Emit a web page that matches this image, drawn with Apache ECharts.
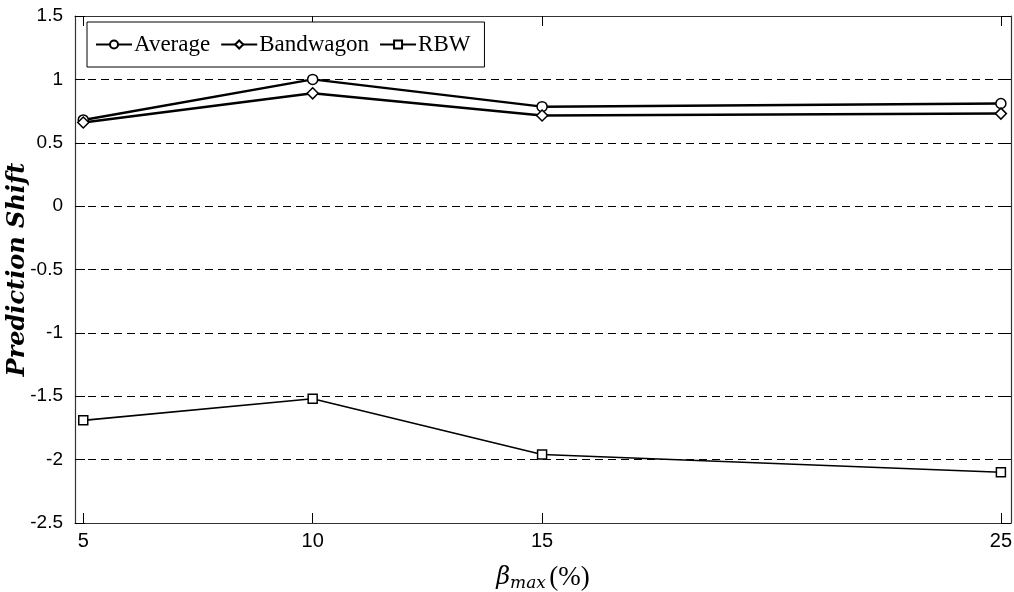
<!DOCTYPE html>
<html>
<head>
<meta charset="utf-8">
<script src="https://cdn.jsdelivr.net/npm/echarts@6/dist/echarts.min.js"></script>
<style>html,body{margin:0;padding:0;background:#fff}#c{width:1014px;height:592px}</style>
</head>
<body>
<div id="c"></div>
<script>
const betaMax = [5, 10, 15, 25];
const xTicks = [5, 10, 15, 25];
const average = [0.68, 1.00, 0.785, 0.81];
const bandwagon = [0.66, 0.89, 0.715, 0.73];
const rbw = [-1.69, -1.52, -1.96, -2.10];

const pairs = v => betaMax.map((x, i) => [x, v[i]]);
const chart = echarts.init(document.getElementById('c'));
const axisCol = '#333';
const numFont = "'Liberation Sans', sans-serif";
const baseX = {
  type: 'value', min: 4.82, max: 25.22,
  axisLine: {show: true, onZero: false, lineStyle: {color: axisCol, width: 1.2}},
  splitLine: {show: false}
};
const baseY = {
  type: 'value', min: -2.5, max: 1.5, interval: 0.5,
  axisLine: {show: true, onZero: false, lineStyle: {color: axisCol, width: 1.2}}
};
function mkSeries(name, data, symbol, width, size) {
  return {
    name, type: 'line', data: pairs(data), symbol, symbolSize: size,
    showSymbol: true,
    lineStyle: {color: '#000', width},
    itemStyle: {color: '#fff', borderColor: '#000', borderWidth: 1.5},
    emphasis: {disabled: true}, animation: false
  };
}
chart.setOption({
  animation: false,
  grid: {left: 75, right: 3, top: 16, bottom: 69, containLabel: false, outerBoundsMode: 'none'},
  legend: {
    left: 87, top: 22, orient: 'horizontal',
    backgroundColor: '#fff', borderColor: '#000', borderWidth: 1,
    padding: [11, 14, 11, 8], itemGap: 10, itemWidth: 36, itemHeight: 10,
    textStyle: {fontFamily: 'Liberation Serif', fontSize: 23, color: '#000', padding: [0, 0, 0, -3]},
    data: ['Average', 'Bandwagon', 'RBW']
  },
  xAxis: [
    Object.assign({}, baseX, {
      position: 'bottom',
      axisTick: {show: true, inside: true, length: 10, customValues: xTicks, lineStyle: {color: '#000'}},
      axisLabel: {show: true, customValues: xTicks, fontFamily: numFont, fontSize: 20, color: '#000', margin: 8},
      name: '{b|β}{s|max} {p|(%)}', nameLocation: 'middle', nameGap: 40, nameMoveOverlap: false,
      nameTextStyle: {
        rich: {
          b: {fontFamily: 'DejaVu Serif', fontStyle: 'italic', fontSize: 24, color: '#000'},
          s: {fontFamily: 'DejaVu Serif', fontStyle: 'italic', fontSize: 17, color: '#000', padding: [12, 0, 0, 0]},
          p: {fontFamily: 'Liberation Serif', fontSize: 27, color: '#000'}
        }
      }
    }),
    Object.assign({}, baseX, {
      position: 'top',
      axisTick: {show: true, inside: true, length: 10, customValues: xTicks, lineStyle: {color: '#000'}},
      axisLabel: {show: false}
    })
  ],
  yAxis: [
    Object.assign({}, baseY, {
      position: 'left',
      axisTick: {show: true, inside: true, length: 10, lineStyle: {color: '#000'}},
      axisLabel: {show: true, fontFamily: numFont, fontSize: 19, color: '#000', margin: 12,
        formatter: v => String(v)},
      splitLine: {show: true, lineStyle: {color: '#000', type: [8, 5], width: 1}},
      name: 'Prediction Shift', nameLocation: 'middle', nameGap: 45, nameMoveOverlap: false,
      nameTextStyle: {fontFamily: 'DejaVu Serif', fontStyle: 'italic', fontWeight: 'bold', fontSize: 24, color: '#000'}
    }),
    Object.assign({}, baseY, {
      position: 'right',
      axisTick: {show: true, inside: true, length: 10, lineStyle: {color: '#000'}},
      axisLabel: {show: false},
      splitLine: {show: false}
    })
  ],
  series: [
    mkSeries('Average', average, 'circle', 2.5, 10),
    mkSeries('Bandwagon', bandwagon, 'diamond', 2.5, 11),
    mkSeries('RBW', rbw, 'rect', 1.6, 9)
  ]
});
</script>
</body>
</html>
